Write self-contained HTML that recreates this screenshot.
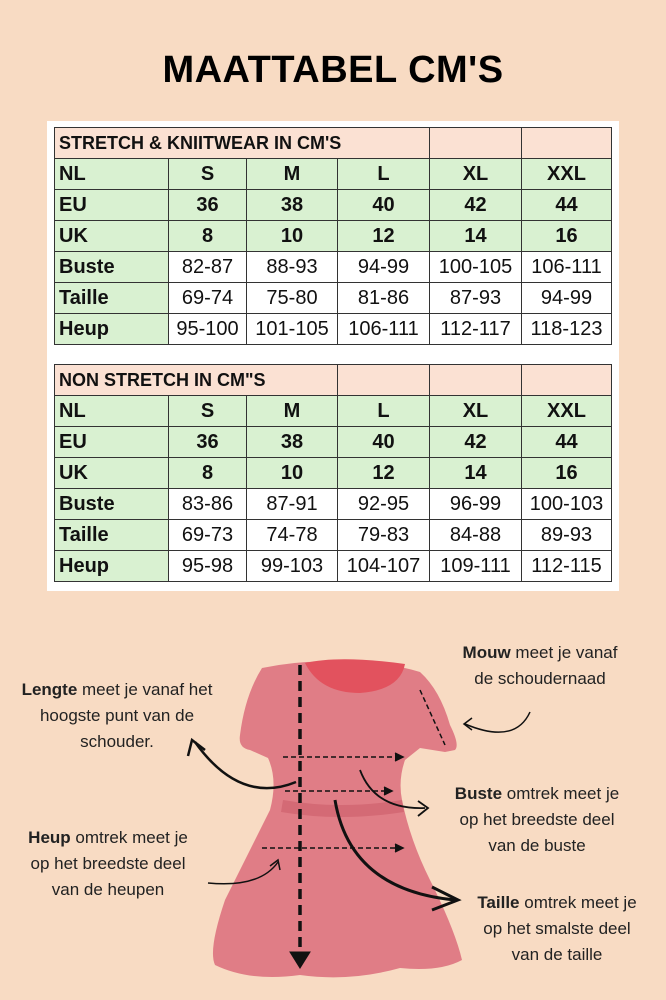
<!DOCTYPE html>
<html><head><meta charset="utf-8"><style>
body{margin:0;width:666px;height:1000px;background:#f8dbc3;position:relative;overflow:hidden;font-family:"Liberation Sans",sans-serif}
h1{position:absolute;top:49px;left:0;width:666px;text-align:center;margin:0;font-size:38px;font-weight:bold;color:#000;letter-spacing:0.5px}
.sheet{position:absolute;left:47px;top:121px;width:572px;height:470px;background:#fff}
table{position:absolute;left:54px;border-collapse:collapse;table-layout:fixed;font-family:"Liberation Sans",sans-serif}
td{border:1px solid #333;height:30px;padding:0;font-size:20px;text-align:center;color:#111;white-space:nowrap;overflow:hidden}
td.h{background:#fbe1d3;text-align:left;padding-left:4px;font-weight:bold;font-size:18px}
td.hp{background:#fbe1d3}
tr.g td{background:#d9f1d1;font-weight:bold}
td.l{background:#d9f1d1;text-align:left;padding-left:4px;font-weight:bold}
svg{position:absolute;left:0;top:0}
</style></head><body>
<h1>MAATTABEL CM'S</h1>
<div class="sheet"></div>
<table style="top:127px">
<colgroup><col style="width:114px"><col style="width:78px"><col style="width:91px"><col style="width:92px"><col style="width:92px"><col style="width:90px"></colgroup>
<tr><td class="h" colspan="4">STRETCH &amp; KNIITWEAR IN CM'S</td><td class="hp"></td><td class="hp"></td></tr>
<tr class="g"><td class="l">NL</td><td>S</td><td>M</td><td>L</td><td>XL</td><td>XXL</td></tr>
<tr class="g"><td class="l">EU</td><td>36</td><td>38</td><td>40</td><td>42</td><td>44</td></tr>
<tr class="g"><td class="l">UK</td><td>8</td><td>10</td><td>12</td><td>14</td><td>16</td></tr>
<tr><td class="l">Buste</td><td>82-87</td><td>88-93</td><td>94-99</td><td>100-105</td><td>106-111</td></tr>
<tr><td class="l">Taille</td><td>69-74</td><td>75-80</td><td>81-86</td><td>87-93</td><td>94-99</td></tr>
<tr><td class="l">Heup</td><td>95-100</td><td>101-105</td><td>106-111</td><td>112-117</td><td>118-123</td></tr>
</table>
<table style="top:364px">
<colgroup><col style="width:114px"><col style="width:78px"><col style="width:91px"><col style="width:92px"><col style="width:92px"><col style="width:90px"></colgroup>
<tr><td class="h" colspan="3">NON STRETCH IN CM"S</td><td class="hp"></td><td class="hp"></td><td class="hp"></td></tr>
<tr class="g"><td class="l">NL</td><td>S</td><td>M</td><td>L</td><td>XL</td><td>XXL</td></tr>
<tr class="g"><td class="l">EU</td><td>36</td><td>38</td><td>40</td><td>42</td><td>44</td></tr>
<tr class="g"><td class="l">UK</td><td>8</td><td>10</td><td>12</td><td>14</td><td>16</td></tr>
<tr><td class="l">Buste</td><td>83-86</td><td>87-91</td><td>92-95</td><td>96-99</td><td>100-103</td></tr>
<tr><td class="l">Taille</td><td>69-73</td><td>74-78</td><td>79-83</td><td>84-88</td><td>89-93</td></tr>
<tr><td class="l">Heup</td><td>95-98</td><td>99-103</td><td>104-107</td><td>109-111</td><td>112-115</td></tr>
</table>
<svg width="666" height="1000" viewBox="0 0 666 1000">
<path d="M262,668 Q300,660 335,662 Q380,660 420,672 Q440,690 450,725 Q460,745 455,750 L445,752 L420,748 L405,760 Q398,780 402,800 Q410,840 430,880 Q455,930 462,960 Q440,972 400,968 Q350,982 300,975 Q250,982 215,965 Q208,950 225,900 Q250,850 270,810 Q278,780 268,758 L250,750 Q238,748 240,735 Q245,695 262,668 Z" fill="#e07d86"/>
<path d="M305,663 Q340,655 405,664 Q400,690 360,693 Q320,693 305,663 Z" fill="#e2525e"/>
<path d="M283,800 Q340,810 402,800 L404,812 Q340,822 281,812 Z" fill="#d46a75"/>
<g stroke="#111" fill="none">
<line x1="300" y1="665" x2="300" y2="955" stroke-width="3.5" stroke-dasharray="10,6"/>
<path d="M290,952 L300,968 L310,952 Z" fill="#111"/>
<g stroke-width="1.5" stroke-dasharray="5,3"><line x1="283" y1="757" x2="400" y2="757"/><line x1="285" y1="791" x2="390" y2="791"/><line x1="262" y1="848" x2="400" y2="848"/><line x1="420" y1="690" x2="445" y2="745"/></g>
<g stroke-width="1.5"><path d="M395,753 l8,4 -8,4" fill="#111"/><path d="M384,787 l8,4 -8,4" fill="#111"/><path d="M395,844 l8,4 -8,4" fill="#111"/></g>
<path d="M296,782 Q240,805 195,742" stroke-width="2.5"/><path d="M188,756 L192,740 L205,750" stroke-width="2.5"/>
<path d="M360,770 Q375,810 425,808" stroke-width="1.8"/><path d="M418,801 L428,808 L418,816" stroke-width="1.8"/>
<path d="M335,800 Q350,890 455,900" stroke-width="3"/><path d="M432,887 L458,900 L432,910" stroke-width="3"/>
<path d="M208,883 Q260,888 278,862" stroke-width="1.5"/><path d="M270,866 L278,860 L280,870" stroke-width="1.5"/>
<path d="M530,712 Q515,745 465,724" stroke-width="1.5"/><path d="M472,718 L464,724 L472,730" stroke-width="1.5"/>
</g>
<g font-family="Liberation Sans,sans-serif" font-size="17" fill="#222" text-anchor="middle">
<text x="117" y="695"><tspan font-weight="bold">Lengte</tspan> meet je vanaf het</text>
<text x="117" y="721">hoogste punt van de</text>
<text x="117" y="747">schouder.</text>
<text x="540" y="658"><tspan font-weight="bold">Mouw</tspan> meet je vanaf</text>
<text x="540" y="684">de schoudernaad</text>
<text x="537" y="799"><tspan font-weight="bold">Buste</tspan> omtrek meet je</text>
<text x="537" y="825">op het breedste deel</text>
<text x="537" y="851">van de buste</text>
<text x="108" y="843"><tspan font-weight="bold">Heup</tspan> omtrek meet je</text>
<text x="108" y="869">op het breedste deel</text>
<text x="108" y="895">van de heupen</text>
<text x="557" y="908"><tspan font-weight="bold">Taille</tspan> omtrek meet je</text>
<text x="557" y="934">op het smalste deel</text>
<text x="557" y="960">van de taille</text>
</g>
</svg>
</body></html>
